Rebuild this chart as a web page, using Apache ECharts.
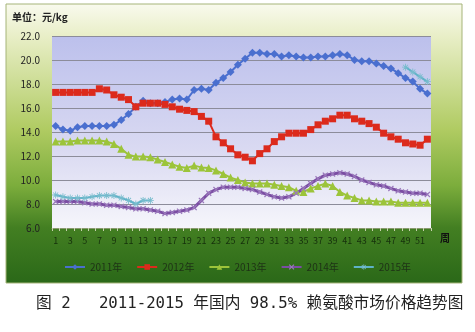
<!DOCTYPE html>
<html><head><meta charset="utf-8">
<script src="https://cdn.jsdelivr.net/npm/echarts@6/dist/echarts.min.js"></script>
<style>html,body{margin:0;padding:0;background:#fff;}#c{width:475px;height:332px;}</style>
</head><body><div id="c"></div>
<script>
var weeks = [];
for (var i = 1; i <= 52; i++) weeks.push(String(i));
var seriesNames = ['2011年','2012年','2013年','2014年','2015年'];
var y2011 = [14.5,14.2,14.1,14.4,14.5,14.5,14.5,14.5,14.6,15.0,15.5,16.1,16.6,16.4,16.4,16.5,16.7,16.8,16.7,17.5,17.6,17.5,18.1,18.5,19.0,19.6,20.1,20.6,20.6,20.5,20.5,20.3,20.4,20.3,20.2,20.2,20.3,20.3,20.4,20.5,20.4,20.0,19.9,19.9,19.7,19.5,19.3,18.9,18.5,18.2,17.6,17.2];
var y2012 = [17.3,17.3,17.3,17.3,17.3,17.3,17.6,17.5,17.1,16.9,16.7,16.1,16.4,16.4,16.4,16.3,16.1,15.9,15.8,15.7,15.3,14.9,13.6,13.1,12.6,12.1,11.9,11.6,12.2,12.6,13.2,13.6,13.9,13.9,13.9,14.2,14.6,14.9,15.1,15.4,15.4,15.1,14.9,14.7,14.4,13.9,13.6,13.4,13.1,13.0,12.9,13.4];
var y2013 = [13.2,13.2,13.2,13.3,13.3,13.3,13.3,13.2,13.0,12.6,12.1,11.95,11.95,11.9,11.7,11.5,11.3,11.1,11.0,11.2,11.05,11.0,10.8,10.5,10.2,10.0,9.8,9.7,9.7,9.7,9.6,9.5,9.4,9.1,9.0,9.3,9.5,9.7,9.5,9.0,8.7,8.5,8.3,8.3,8.2,8.2,8.2,8.1,8.1,8.1,8.1,8.1];
var y2014 = [8.2,8.2,8.2,8.2,8.1,8.0,8.0,7.9,7.9,7.8,7.7,7.6,7.6,7.5,7.4,7.2,7.3,7.4,7.5,7.7,8.3,8.9,9.2,9.4,9.4,9.4,9.3,9.2,9.0,8.8,8.6,8.5,8.6,8.9,9.3,9.7,10.1,10.4,10.5,10.6,10.5,10.3,10.0,9.8,9.6,9.5,9.3,9.1,9.0,8.9,8.9,8.8];
var y2015 = [8.75,8.6,8.5,8.5,8.5,8.6,8.7,8.7,8.7,8.5,8.3,8.0,8.3,8.3,null,null,null,null,null,null,null,null,null,null,null,null,null,null,null,null,null,null,null,null,null,null,null,null,null,null,null,null,null,null,null,null,null,null,19.4,19.0,18.6,18.2];
var yTicks = ['6.0','8.0','10.0','12.0','14.0','16.0','18.0','20.0','22.0'];
var unitText = '单位：元/kg';
var xName = '周';
var caption = '图 2   2011-2015 年国内 98.5% 赖氨酸市场价格趋势图';

var X_PATH = 'path://M0 1.5L1.5 0L5 3.5L8.5 0L10 1.5L6.5 5L10 8.5L8.5 10L5 6.5L1.5 10L0 8.5L3.5 5Z';
var AST_PATH = 'path://M4.4 0H5.6V4.4H10V5.6H5.6V10H4.4V5.6H0V4.4H4.4Z M1 1.8L1.8 1L5 4.2L8.2 1L9 1.8L5.8 5L9 8.2L8.2 9L5 5.8L1.8 9L1 8.2L4.2 5Z';

var chart = echarts.init(document.getElementById('c'), null, {renderer:'canvas'});
var G = echarts.graphic;
chart.setOption({
  animation: false,
  textStyle: {fontFamily: 'Noto Sans CJK SC, Noto Sans, sans-serif'},
  graphic: [
    {type:'rect', z:-100, silent:true, shape:{x:6,y:4,width:456,height:279},
     style:{fill: new G.LinearGradient(0,0,0,1,[
        {offset:0,color:'#f9faee'},{offset:0.12,color:'#e8eec6'},{offset:0.45,color:'#b0cb62'},
        {offset:0.65,color:'#7cad3c'},{offset:0.8,color:'#437f22'},{offset:1,color:'#2a6818'}]), stroke:'#a5b478', lineWidth:1}},
    {type:'text', left:12, top:12, style:{text:unitText, font:'bold 10px "Noto Sans CJK SC"', fill:'#222'}},
    {type:'text', left:440, top:233, style:{text:xName, font:'bold 10px "Noto Sans CJK SC"', fill:'#111'}},
    {type:'text', left:36, top:296, style:{text:caption, font:'15.7px "DejaVu Sans Mono", "Noto Sans CJK SC"', fill:'#222'}}
  ],
  grid: {left:52, right:44, top:36, bottom:104, show:true, borderWidth:0,
    backgroundColor: new G.LinearGradient(0,0,0,1,[{offset:0,color:'#bcc0ec'},{offset:0.6,color:'#dadaf2'},{offset:1,color:'#f6f6fb'}])},
  xAxis: {type:'category', data:weeks, boundaryGap:true,
    axisLine:{lineStyle:{color:'#8a9a70'}},
    axisTick:{show:true, interval:0, length:3, lineStyle:{color:'#c8d0b0'}},
    axisLabel:{interval:1, fontSize:9, color:'#15300c', margin:8}},
  yAxis: {type:'value', min:6, max:22, interval:2,
    axisLine:{show:false}, axisTick:{show:false},
    axisLabel:{fontSize:10, color:'#222', margin:12, formatter:function(v){return yTicks[Math.round((v-6)/2)];}},
    splitLine:{lineStyle:{color:'#8c8c9a', width:1}}},
  legend: {bottom:55, left:'center', itemGap:14, itemWidth:20, itemHeight:7,
    textStyle:{fontSize:10, color:'#1e3216'}, data:seriesNames},
  series: [
    {name:seriesNames[0], type:'line', data:y2011, symbol:'diamond', symbolSize:8, showAllSymbol:true,
      lineStyle:{color:'#4a6fcf', width:2}, itemStyle:{color:'#4a6fcf'}},
    {name:seriesNames[1], type:'line', data:y2012, symbol:'rect', symbolSize:7, showAllSymbol:true,
      lineStyle:{color:'#dc2a1c', width:2}, itemStyle:{color:'#dc2a1c'}},
    {name:seriesNames[2], type:'line', data:y2013, symbol:'triangle', symbolSize:8, showAllSymbol:true,
      lineStyle:{color:'#9cc43a', width:2}, itemStyle:{color:'#9cc43a'}},
    {name:seriesNames[3], type:'line', data:y2014, symbol:X_PATH, symbolSize:6, showAllSymbol:true,
      lineStyle:{color:'#7b4ea3', width:3}, itemStyle:{color:'#9a78bc'}},
    {name:seriesNames[4], type:'line', data:y2015, symbol:AST_PATH, symbolSize:7, showAllSymbol:true, connectNulls:false,
      lineStyle:{color:'#5fb2c8', width:2}, itemStyle:{color:'#78bccd'}}
  ]
});
</script></body></html>
